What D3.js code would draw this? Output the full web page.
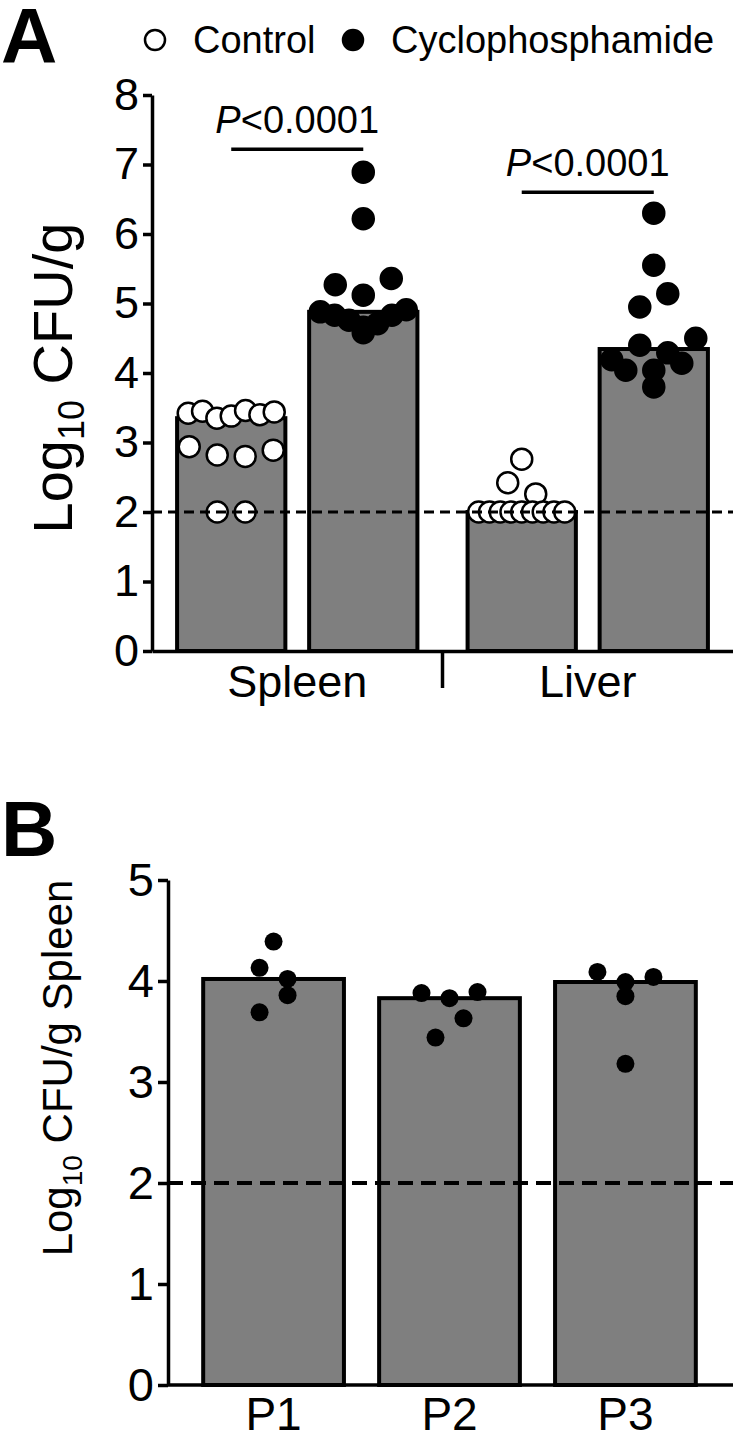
<!DOCTYPE html>
<html lang="en">
<head>
  <meta charset="UTF-8">
  <title>CFU spleen / liver</title>
  <script src="https://d3js.org/d3.v7.min.js"></script>
  <style>
    body { margin: 0; padding: 0; background: #fff; }
    svg { display: block; font-family: "Liberation Sans", Arial, sans-serif; }
    .axis path, .axis line { stroke: #000; stroke-width: 3.5px; }
    .axis text { fill: #000; }
  </style>
</head>
<body>
  <div id="chart"></div>

  <script>
    // panel A data (log10 CFU/g), listed left to right inside each row
    const tissues = ["Spleen", "Liver"];
    const treatments = ["Control", "Cyclophosphamide"];
    const spleenControl = [3.42, 3.45, 3.35, 3.38, 3.46, 3.40, 3.44, 2.94, 2.82, 2.80, 2.89, 2.0, 2.0];
    const spleenCyclo = [6.89, 6.22, 5.27, 5.12, 5.36, 4.88, 4.83, 4.76, 4.66, 4.71, 4.83, 4.91, 4.58];
    const liverControl = [2.76, 2.42, 2.26, 2.0, 2.0, 2.0, 2.0, 2.0, 2.0, 2.0, 2.0, 2.0];
    const liverCyclo = [6.30, 5.55, 4.95, 5.14, 4.19, 4.40, 4.29, 4.50, 4.04, 4.04, 4.14, 3.80];
    const ticksA = [0, 1, 2, 3, 4, 5, 6, 7, 8];
    const pTexts = ["<0.0001", "<0.0001"];
    const pLevels = [7.22, 6.6];

    // panel B data
    const patients = ["P1", "P2", "P3"];
    const p1 = [4.39, 4.13, 4.02, 3.69, 3.86];
    const p2 = [3.88, 3.83, 3.89, 3.44, 3.63];
    const p3 = [4.09, 3.99, 4.04, 3.85, 3.18];
    const ticksB = [0, 1, 2, 3, 4, 5];
    const detectionLimit = 2;

    const width = 733, height = 1439;
    const svg = d3.select("#chart").append("svg")
      .attr("width", width)
      .attr("height", height);

    // prism-like scatter: points in rows, spread symmetrically
    function swarm(values, y, cx, rowH, step, maxSpan) {
      const pts = values.map((v, i) => ({ v: v, i: i, y: y(v) }));
      const rows = [];
      pts.slice().sort((a, b) => a.y - b.y || a.i - b.i).forEach(p => {
        const row = rows[rows.length - 1];
        if (row && p.y - row[0].y < rowH) row.push(p); else rows.push([p]);
      });
      rows.forEach(row => {
        row.sort((a, b) => a.i - b.i);
        const n = row.length;
        const st = n > 1 ? Math.min(step, maxSpan / (n - 1)) : 0;
        row.forEach((p, k) => { p.x = cx + (k - (n - 1) / 2) * st; });
      });
      return pts;
    }

    // ---------- panel A ----------
    const gA = svg.append("g");
    const yA = d3.scaleLinear().domain([0, 8]).range([651, 95]);
    const xT = d3.scaleBand().domain(tissues).range([152, 733]);
    const xS = d3.scaleBand().domain(treatments).range([0, xT.bandwidth()])
      .paddingInner(0.18).paddingOuter(0.19);

    const groupsA = [
      { tissue: "Spleen", treat: "Control", vals: spleenControl },
      { tissue: "Spleen", treat: "Cyclophosphamide", vals: spleenCyclo },
      { tissue: "Liver", treat: "Control", vals: liverControl },
      { tissue: "Liver", treat: "Cyclophosphamide", vals: liverCyclo }
    ];
    groupsA.forEach(d => {
      d.x0 = xT(d.tissue) + xS(d.treat);
      d.cx = d.x0 + xS.bandwidth() / 2;
      d.med = d3.median(d.vals);
    });

    gA.selectAll("rect.bar").data(groupsA).join("rect")
      .attr("class", "bar")
      .attr("x", d => d.x0)
      .attr("y", d => yA(d.med))
      .attr("width", xS.bandwidth())
      .attr("height", d => yA(0) - yA(d.med))
      .attr("fill", "#7f7f7f")
      .attr("stroke", "#000")
      .attr("stroke-width", 4);

    groupsA.forEach(d => {
      const pts = swarm(d.vals, yA, d.cx, 22, 28, 86);
      gA.append("g").selectAll("circle").data(pts).join("circle")
        .attr("cx", p => p.x)
        .attr("cy", p => p.y)
        .attr("r", 10.5)
        .attr("fill", d.treat === "Control" ? "#fff" : "#000")
        .attr("stroke", "#000")
        .attr("stroke-width", 2.5);
    });

    gA.append("line")
      .attr("x1", 152).attr("x2", 733)
      .attr("y1", yA(detectionLimit)).attr("y2", yA(detectionLimit))
      .attr("stroke", "#000").attr("stroke-width", 3)
      .attr("stroke-dasharray", "10,6");

    gA.append("g").attr("class", "axis")
      .attr("transform", "translate(152,0)")
      .call(d3.axisLeft(yA).tickValues(ticksA).tickFormat(d3.format("d"))
        .tickSize(9).tickSizeOuter(0).tickPadding(4))
      .call(g => g.selectAll("text").attr("font-size", 45));

    gA.append("g").attr("class", "axis")
      .attr("transform", "translate(0,651)")
      .call(d3.axisBottom(xT).tickSize(0).tickSizeOuter(0).tickPadding(14))
      .call(g => g.selectAll("text").attr("font-size", 45));

    gA.append("line")
      .attr("x1", xT("Liver")).attr("x2", xT("Liver"))
      .attr("y1", 651).attr("y2", 688)
      .attr("stroke", "#000").attr("stroke-width", 3.5);

    // significance bars
    tissues.forEach((t, i) => {
      const xa = xT(t) + xS("Control") + xS.bandwidth() / 2;
      const xb = xT(t) + xS("Cyclophosphamide") + xS.bandwidth() / 2;
      gA.append("line")
        .attr("x1", xa).attr("x2", xb)
        .attr("y1", yA(pLevels[i])).attr("y2", yA(pLevels[i]))
        .attr("stroke", "#000").attr("stroke-width", 3.5);
      const txt = gA.append("text")
        .attr("x", (xa + xb) / 2)
        .attr("y", yA(pLevels[i]) - 16)
        .attr("text-anchor", "middle")
        .attr("font-size", 38);
      txt.append("tspan").attr("font-style", "italic").text("P");
      txt.append("tspan").text(pTexts[i]);
    });

    // y title A
    const tA = gA.append("text")
      .attr("transform", "translate(72,378) rotate(-90)")
      .attr("text-anchor", "middle")
      .attr("font-size", 56);
    tA.append("tspan").text("Log");
    tA.append("tspan").attr("font-size", 36).attr("dy", 12).text("10");
    tA.append("tspan").attr("dy", -12).text(" CFU/g");

    // legend
    const legend = svg.append("g");
    treatments.forEach((t, i) => {
      const lx = [155, 353][i];
      legend.append("circle")
        .attr("cx", lx).attr("cy", 40).attr("r", 10)
        .attr("fill", i === 0 ? "#fff" : "#000")
        .attr("stroke", "#000").attr("stroke-width", 2.5);
      legend.append("text")
        .attr("x", lx + 38).attr("y", 53)
        .attr("font-size", 38)
        .text(t);
    });

    svg.append("text").attr("x", 1).attr("y", 63)
      .attr("font-size", 78).attr("font-weight", "bold").text("A");
    svg.append("text").attr("x", 1).attr("y", 856)
      .attr("font-size", 78).attr("font-weight", "bold").text("B");

    // ---------- panel B ----------
    const gB = svg.append("g");
    const yB = d3.scaleLinear().domain([0, 5]).range([1385, 880]);
    const xB = d3.scaleBand().domain(patients).range([168, 731])
      .paddingInner(0.2).paddingOuter(0.2);
    const groupsB = [p1, p2, p3].map((vals, i) => ({
      name: patients[i], vals: vals, med: d3.median(vals)
    }));

    gB.selectAll("rect.bar").data(groupsB).join("rect")
      .attr("class", "bar")
      .attr("x", d => xB(d.name))
      .attr("y", d => yB(d.med))
      .attr("width", xB.bandwidth())
      .attr("height", d => yB(0) - yB(d.med))
      .attr("fill", "#7f7f7f")
      .attr("stroke", "#000")
      .attr("stroke-width", 4);

    groupsB.forEach(d => {
      const pts = swarm(d.vals, yB, xB(d.name) + xB.bandwidth() / 2, 22, 28, 90);
      gB.append("g").selectAll("circle").data(pts).join("circle")
        .attr("cx", p => p.x)
        .attr("cy", p => p.y)
        .attr("r", 9)
        .attr("fill", "#000");
    });

    gB.append("line")
      .attr("x1", 168).attr("x2", 733)
      .attr("y1", yB(detectionLimit)).attr("y2", yB(detectionLimit))
      .attr("stroke", "#000").attr("stroke-width", 4)
      .attr("stroke-dasharray", "15,8");

    gB.append("g").attr("class", "axis")
      .attr("transform", "translate(168,0)")
      .call(d3.axisLeft(yB).tickValues(ticksB).tickFormat(d3.format("d"))
        .tickSize(10).tickSizeOuter(0).tickPadding(4))
      .call(g => g.selectAll("text").attr("font-size", 47));

    gB.append("g").attr("class", "axis")
      .attr("transform", "translate(0,1385)")
      .call(d3.axisBottom(xB).tickSize(0).tickSizeOuter(0).tickPadding(12))
      .call(g => g.select(".domain").attr("d", "M168,0H733"))
      .call(g => g.selectAll("text").attr("font-size", 46));

    const tB = gB.append("text")
      .attr("transform", "translate(72,1068) rotate(-90)")
      .attr("text-anchor", "middle")
      .attr("font-size", 42);
    tB.append("tspan").text("Log");
    tB.append("tspan").attr("font-size", 28).attr("dy", 10).text("10");
    tB.append("tspan").attr("dy", -10).text(" CFU/g Spleen");
  </script>
</body>
</html>
